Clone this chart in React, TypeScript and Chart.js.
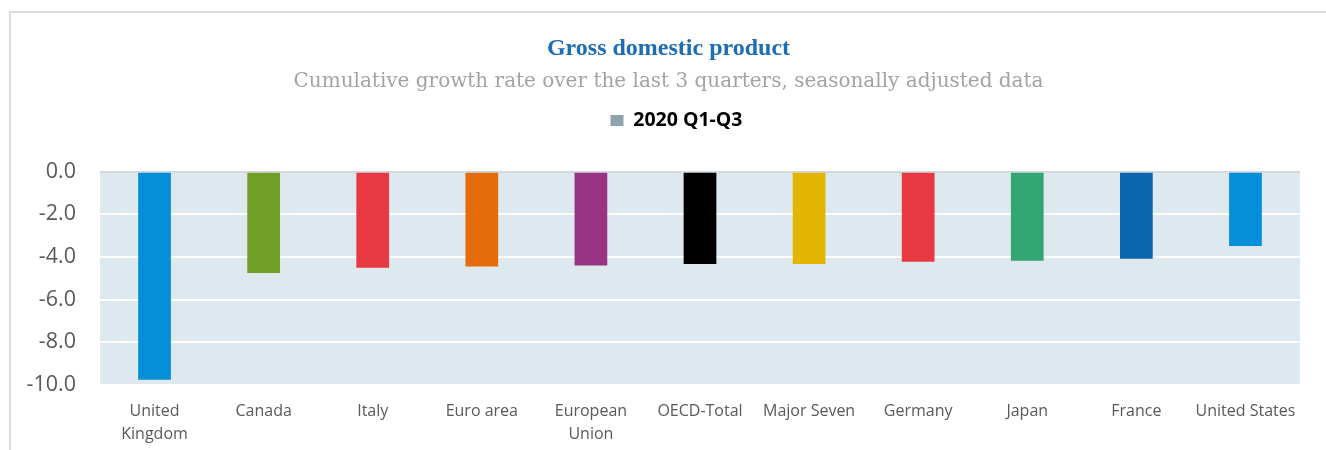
import React, { useEffect, useRef } from "react";
import { Chart, registerables } from "chart.js";

Chart.register(...registerables);

const categories: (string | string[])[] = [
  ["United", "Kingdom"],
  "Canada",
  "Italy",
  "Euro area",
  ["European", "Union"],
  "OECD-Total",
  "Major Seven",
  "Germany",
  "Japan",
  "France",
  "United States",
];

const seriesName = "2020 Q1-Q3";
const growthValues = [-9.75, -4.75, -4.5, -4.45, -4.4, -4.33, -4.33, -4.22, -4.18, -4.08, -3.48];

const barColors = [
  "#058fd9",
  "#729f27",
  "#e83841",
  "#e46c0a",
  "#993485",
  "#000000",
  "#e1b500",
  "#e83841",
  "#32a675",
  "#0b66ac",
  "#058fd9",
];

const legendColor = "#8fa3ae";
const yMin = -10;
const yMax = 0;
const yStep = 2;

const titleText = "Gross domestic product";
const subtitleText = "Cumulative growth rate over the last 3 quarters, seasonally adjusted data";

const plotBackground = {
  id: "plotBackground",
  beforeDraw(chart: any) {
    const { ctx, chartArea } = chart;
    if (!chartArea) return;
    ctx.save();
    ctx.fillStyle = "#dee8ef";
    ctx.fillRect(chartArea.left, chartArea.top, chartArea.right - chartArea.left, chartArea.bottom - chartArea.top);
    ctx.restore();
  },
};

const legendShift = {
  id: "legendShift",
  afterLayout(chart: any) {
    const lg = chart.legend;
    if (lg) {
      lg.left += 8;
      lg.right += 8;
    }
  },
};

export default function App() {
  const canvasRef = useRef<HTMLCanvasElement | null>(null);

  useEffect(() => {
    if (!canvasRef.current) return;
    const chart = new Chart(canvasRef.current, {
      type: "bar",
      data: {
        labels: categories,
        datasets: [
          {
            label: seriesName,
            data: growthValues,
            backgroundColor: barColors,
            borderWidth: 0,
            categoryPercentage: 1,
            barPercentage: 0.3,
          },
        ],
      },
      options: {
        animation: false,
        responsive: true,
        maintainAspectRatio: false,
        layout: { padding: { left: 11, right: 0, top: 0, bottom: 0 } },
        plugins: {
          title: {
            display: true,
            text: titleText,
            color: "#1c6db4",
            font: { family: "'Liberation Serif', serif", size: 24, weight: "bold", lineHeight: 1.2 },
            padding: { top: 34, bottom: 0 },
          },
          subtitle: {
            display: true,
            text: subtitleText,
            color: "#a3a3a3",
            font: { family: "'DejaVu Serif', serif", size: 20, weight: "normal", lineHeight: 1.2 },
            padding: { top: 7, bottom: 0 },
          },
          legend: {
            display: true,
            position: "top",
            labels: {
              boxWidth: 13,
              boxHeight: 11,
              padding: 17,
              color: "#000000",
              font: { family: "'Open Sans', sans-serif", size: 19.5, weight: "bold" },
              generateLabels: () => [
                {
                  text: seriesName,
                  fillStyle: legendColor,
                  strokeStyle: legendColor,
                  lineWidth: 0,
                  hidden: false,
                  datasetIndex: 0,
                },
              ],
            },
          },
          tooltip: { enabled: false },
        },
        scales: {
          x: {
            type: "category",
            position: "bottom",
            grid: { display: false, drawTicks: false },
            border: { display: false },
            ticks: {
              color: "#595959",
              font: { family: "'Open Sans', sans-serif", size: 16, lineHeight: 1.45 },
              padding: 15,
              maxRotation: 0,
              minRotation: 0,
              autoSkip: false,
            },
            afterFit: (scale: any) => {
              scale.height = 65;
            },
          },
          x2: {
            type: "linear",
            position: "top",
            display: true,
            grid: { display: false, drawTicks: false },
            border: { display: false },
            ticks: { display: false },
            afterFit: (scale: any) => {
              scale.height = 10;
            },
          },
          y: {
            type: "linear",
            position: "left",
            min: yMin,
            max: yMax,
            grid: {
              drawTicks: false,
              lineWidth: 2,
              color: (ctx: any) => (ctx.tick && ctx.tick.value === 0 ? "#d3d9dd" : "#ffffff"),
            },
            border: { display: false },
            ticks: {
              stepSize: yStep,
              color: "#595959",
              padding: 24,
              font: { family: "'Open Sans', sans-serif", size: 21.5 },
              callback: (v: any) => Number(v).toFixed(1),
            },
            afterFit: (scale: any) => {
              scale.width = 89;
            },
          },
          y2: {
            type: "linear",
            position: "right",
            display: true,
            grid: { display: false, drawTicks: false },
            border: { display: false },
            ticks: { display: false },
            afterFit: (scale: any) => {
              scale.width = 26;
            },
          },
        },
      },
      plugins: [plotBackground, legendShift],
    } as any);
    // Adjust the spacer so the plot top lands on the 0 line position
    const area = chart.chartArea;
    const target = 171.7;
    const delta = target - area.top;
    if (Math.abs(delta) > 0.05) {
      const x2 = (chart.options.scales as any).x2;
      x2.afterFit = (scale: any) => {
        scale.height = 10 + delta;
      };
      chart.update();
    }
    return () => chart.destroy();
  }, []);

  return (
    <div style={{ position: "absolute", left: 0, top: 0, width: 1326, height: 450, background: "#ffffff" }}>
      <div
        style={{
          position: "absolute",
          left: 9,
          top: 11,
          right: 0,
          bottom: 0,
          borderTop: "2px solid #dcdcdc",
          borderLeft: "2px solid #dcdcdc",
          pointerEvents: "none",
        }}
      />
      <div style={{ position: "absolute", left: 0, top: 0, width: 1326, height: 450 }}>
        <canvas ref={canvasRef} />
      </div>
    </div>
  );
}
